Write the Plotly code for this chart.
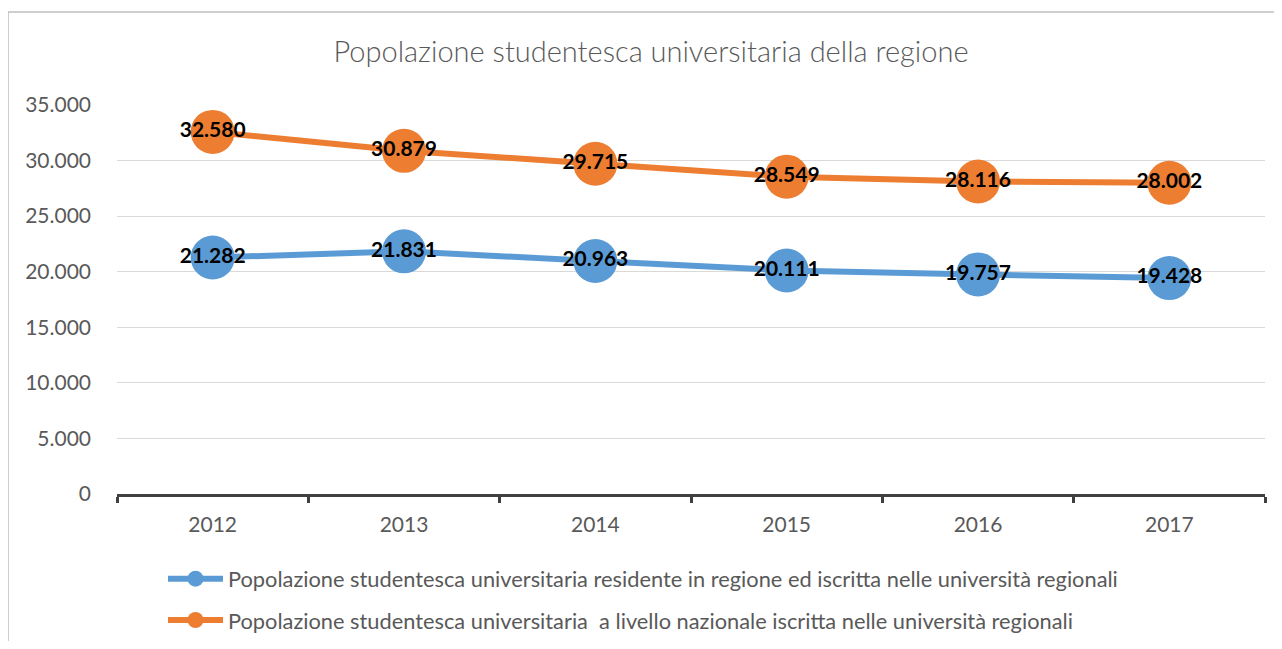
import plotly.graph_objects as go

years = ["2012", "2013", "2014", "2015", "2016", "2017"]
residenti = [21282, 21831, 20963, 20111, 19757, 19428]
nazionale = [32580, 30879, 29715, 28549, 28116, 28002]
name_res = "Popolazione studentesca universitaria residente in regione ed iscritta nelle università regionali"
name_naz = "Popolazione studentesca universitaria  a livello nazionale iscritta nelle università regionali"
y_ticks = [0, 5000, 10000, 15000, 20000, 25000, 30000, 35000]

FONT = "Lato"
OFF = 8  # page body margin
W, H = 1282 - 2 * OFF, 649 - 2 * OFF
# target pixel positions in the window
PL, PR, PT, PB = 117, 1265, 105, 494
L, T = PL - OFF, PT - OFF
R = W - (PR - OFF)
B = H - (PB - OFF)
pw, ph = W - L - R, H - T - B

def px2x(p):
    return (p - PL) / pw

def px2y(p):
    return (PB - p) / ph

fig = go.Figure()
for name, vals, col, grp in [(name_res, residenti, "#5B9BD5", "a"), (name_naz, nazionale, "#ED7D31", "b")]:
    fig.add_trace(go.Scatter(
        x=years, y=vals, name=name, mode="lines+markers+text", legendgroup=grp,
        line=dict(color=col, width=6),
        marker=dict(color=col, size=44),
        texttemplate="%{y:,.0f}", textposition="middle center",
        textfont=dict(family=FONT, size=21, color="#000000", weight="bold"),
        cliponaxis=False,
    ))

fig.update_layout(
    width=W, height=H, autosize=False,
    margin=dict(l=L, r=R, t=T, b=B, autoexpand=False),
    paper_bgcolor="white", plot_bgcolor="white",
    separators=",.",
    font=dict(family=FONT, color="#595959", size=21),
    title=dict(text="Popolazione studentesca universitaria della regione",
               x=(651 - OFF) / W, xanchor="center", xref="container",
               y=1 - (52 - OFF) / H, yanchor="middle", yref="container",
               font=dict(family=FONT, size=29, color="#595959", weight=300)),
    xaxis=dict(type="category", range=[-0.5, len(years) - 0.5], showgrid=False,
               showline=True, linecolor="#404040", linewidth=3,
               ticks="outside", tickson="boundaries", ticklen=6, tickwidth=3, tickcolor="#404040",
               tickfont=dict(size=21, color="#595959"), ticklabelstandoff=10, automargin=False),
    yaxis=dict(range=[0, 35000], tickvals=y_ticks, tickformat=",.0f", showgrid=True,
               gridcolor="#d9d9d9", gridwidth=1, zeroline=False, showline=False,
               tickfont=dict(size=21, color="#595959"), ticklabelstandoff=25, automargin=False),
    legend=dict(orientation="v", x=px2x(163), xanchor="left", y=px2y(558), yanchor="top",
                font=dict(size=21.8, color="#595959"), itemwidth=55, tracegroupgap=10,
                bgcolor="rgba(0,0,0,0)"),
    showlegend=True,
    shapes=[dict(type="rect", xref="paper", yref="paper",
                 x0=px2x(8), x1=px2x(1300), y0=px2y(680), y1=px2y(12),
                 line=dict(color="#bfbfbf", width=1.5), fillcolor="rgba(0,0,0,0)", layer="below")],
)

fig.write_html("out.html")
